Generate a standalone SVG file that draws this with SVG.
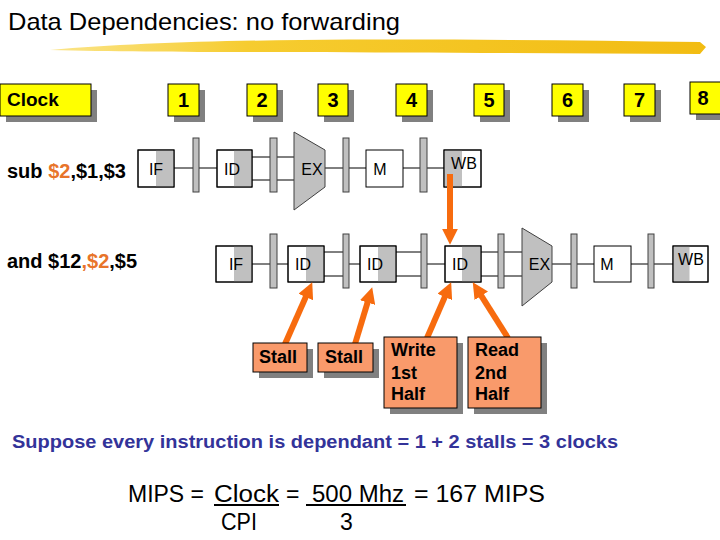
<svg xmlns="http://www.w3.org/2000/svg" width="720" height="540" viewBox="0 0 720 540">
<defs>
<linearGradient id="brush" x1="0" y1="0" x2="1" y2="0">
<stop offset="0" stop-color="#FBE58A"/>
<stop offset="0.3" stop-color="#F6CC30"/>
<stop offset="1" stop-color="#F2BC12"/>
</linearGradient>
<marker id="ah" markerUnits="userSpaceOnUse" markerWidth="16" markerHeight="16" viewBox="0 0 14 14" refX="2" refY="7" orient="auto">
<path d="M0,0 L14,7 L0,14 z" fill="#F76B0E"/>
</marker>
</defs>
<style>
.t{font-family:"Liberation Sans",Arial,sans-serif}
.b{font-weight:bold}
.clk{fill:#FFFF00;stroke:#000;stroke-width:1}
.sh{fill:#808080}
.box{fill:#fff;stroke:#000;stroke-width:1}
.half{fill:#C0C0C0}
.latch{fill:#C0C0C0;stroke:#404040;stroke-width:1}
.alu{fill:#C0C0C0;stroke:#404040;stroke-width:1}
.wire{stroke:#000;stroke-width:1;fill:none}
.note{fill:#F99A6B;stroke:#000;stroke-width:1}
.arr{stroke:#F76B0E;stroke-width:6;fill:none}
.st{font-size:16px}
.num{font-size:20px;font-weight:bold}
.lbl{font-size:18px;font-weight:bold}
.org{fill:#E8742A}
</style>
<rect width="720" height="540" fill="#fff"/>

<!-- title -->
<g id="title">
<path d="M50,50 C120,44 200,41 300,40 C420,39 560,40 700,42 L706,47 L700,54 C560,53 420,53 300,52 C200,52 120,52 50,50 z" fill="url(#brush)"/>
<text class="t" x="8" y="30" font-size="24" textLength="392" lengthAdjust="spacingAndGlyphs">Data Dependencies: no forwarding</text>
</g>

<!-- clock row -->
<g id="clock-label">
<rect class="sh" x="6" y="90" width="91" height="32"/>
<rect class="clk" x="0" y="84" width="91" height="32"/>
<text class="t b" x="7" y="106" font-size="19">Clock</text>
</g>
<g id="clk1"><rect class="sh" x="174" y="90" width="31" height="32"/><rect class="clk" x="168" y="84" width="31" height="32"/><text class="t num" x="183.5" y="107" text-anchor="middle">1</text></g>
<g id="clk2"><rect class="sh" x="253" y="90" width="30" height="32"/><rect class="clk" x="247" y="84" width="30" height="32"/><text class="t num" x="262" y="107" text-anchor="middle">2</text></g>
<g id="clk3"><rect class="sh" x="324" y="90" width="30" height="32"/><rect class="clk" x="318" y="84" width="30" height="32"/><text class="t num" x="333" y="107" text-anchor="middle">3</text></g>
<g id="clk4"><rect class="sh" x="402" y="90" width="31" height="32"/><rect class="clk" x="396" y="84" width="31" height="32"/><text class="t num" x="411.5" y="107" text-anchor="middle">4</text></g>
<g id="clk5"><rect class="sh" x="480" y="90" width="30" height="32"/><rect class="clk" x="474" y="84" width="30" height="32"/><text class="t num" x="489" y="107" text-anchor="middle">5</text></g>
<g id="clk6"><rect class="sh" x="558" y="90" width="31" height="32"/><rect class="clk" x="552" y="84" width="31" height="32"/><text class="t num" x="567.5" y="107" text-anchor="middle">6</text></g>
<g id="clk7"><rect class="sh" x="630" y="90" width="31" height="32"/><rect class="clk" x="624" y="84" width="31" height="32"/><text class="t num" x="639.5" y="107" text-anchor="middle">7</text></g>
<g id="clk8"><rect class="sh" x="696" y="88" width="32" height="32"/><rect class="clk" x="690" y="82" width="32" height="32"/><text class="t num" x="703" y="105" text-anchor="middle">8</text></g>

<!-- instruction labels -->
<g id="label-sub"><text class="t b" x="7" y="178" font-size="20">sub <tspan class="org">$2</tspan>,$1,$3</text></g>
<g id="label-and"><text class="t b" x="7" y="268" font-size="20">and $12<tspan class="org">,$2</tspan>,$5</text></g>

<!-- connectors -->
<g id="connectors">
<path class="wire" d="M174,168 H217 M252,157 H294 M252,180 H294 M325,168 H366 M403,168 H444"/>
<path class="wire" d="M252,264 H288 M324,252 H343 M324,276 H343 M349,264 H360 M396,252 H421 M396,276 H421 M427,264 H445 M481,252 H522 M481,276 H522 M552,264 H594 M631,264 H673"/>
</g>

<!-- row 1 pipeline -->
<g id="r1-if"><rect class="box" x="138" y="150" width="36" height="37"/><rect class="half" x="156" y="150.5" width="17.5" height="36"/><rect x="138" y="150" width="36" height="37" fill="none" stroke="#000"/><text class="t st" x="156" y="175" text-anchor="middle">IF</text></g>
<g id="r1-l1"><rect class="latch" x="193" y="138" width="6" height="54"/></g>
<g id="r1-id"><rect class="box" x="217" y="150" width="35" height="37"/><rect class="half" x="234" y="150.5" width="17.5" height="36"/><rect x="217" y="150" width="35" height="37" fill="none" stroke="#000"/><text class="t st" x="232" y="175" text-anchor="middle">ID</text></g>
<g id="r1-l2"><rect class="latch" x="270" y="138" width="7" height="54"/></g>
<g id="r1-ex"><path class="alu" d="M294,132 L325,150 L325,187 L294,210 z"/><text class="t st" x="312" y="175" text-anchor="middle">EX</text></g>
<g id="r1-l3"><rect class="latch" x="343" y="138" width="6" height="54"/></g>
<g id="r1-m"><rect class="box" x="366" y="150" width="37" height="37"/><text class="t st" x="380" y="175" text-anchor="middle">M</text></g>
<g id="r1-l4"><rect class="latch" x="420" y="138" width="7" height="54"/></g>
<g id="r1-wb"><rect class="box" x="444" y="150" width="37" height="37"/><rect class="half" x="444.5" y="150.5" width="17.5" height="36"/><rect x="444" y="150" width="37" height="37" fill="none" stroke="#000"/><text class="t st" x="464" y="169" text-anchor="middle">WB</text></g>

<!-- row 2 pipeline -->
<g id="r2-if"><rect class="box" x="216" y="246" width="36" height="36"/><rect class="half" x="234" y="246.5" width="17.5" height="35"/><rect x="216" y="246" width="36" height="36" fill="none" stroke="#000"/><text class="t st" x="236" y="270" text-anchor="middle">IF</text></g>
<g id="r2-l1"><rect class="latch" x="270" y="234" width="7" height="54"/></g>
<g id="r2-id1"><rect class="box" x="288" y="246" width="36" height="36"/><rect class="half" x="306" y="246.5" width="17.5" height="35"/><rect x="288" y="246" width="36" height="36" fill="none" stroke="#000"/><text class="t st" x="303" y="270" text-anchor="middle">ID</text></g>
<g id="r2-l2"><rect class="latch" x="343" y="234" width="6" height="54"/></g>
<g id="r2-id2"><rect class="box" x="360" y="246" width="36" height="36"/><rect class="half" x="378" y="246.5" width="17.5" height="35"/><rect x="360" y="246" width="36" height="36" fill="none" stroke="#000"/><text class="t st" x="375" y="270" text-anchor="middle">ID</text></g>
<g id="r2-l3"><rect class="latch" x="421" y="234" width="6" height="54"/></g>
<g id="r2-id3"><rect class="box" x="445" y="246" width="36" height="36"/><rect class="half" x="462" y="246.5" width="18.5" height="35"/><rect x="445" y="246" width="36" height="36" fill="none" stroke="#000"/><text class="t st" x="460" y="270" text-anchor="middle">ID</text></g>
<g id="r2-l4"><rect class="latch" x="498" y="234" width="6" height="54"/></g>
<g id="r2-ex"><path class="alu" d="M522,228 L552,246 L552,282 L522,306 z"/><text class="t st" x="539.5" y="270" text-anchor="middle">EX</text></g>
<g id="r2-l5"><rect class="latch" x="571" y="234" width="6" height="54"/></g>
<g id="r2-m"><rect class="box" x="594" y="246" width="37" height="36"/><text class="t st" x="607" y="270" text-anchor="middle">M</text></g>
<g id="r2-l6"><rect class="latch" x="648" y="234" width="6" height="54"/></g>
<g id="r2-wb"><rect class="box" x="673" y="246" width="35" height="36"/><rect class="half" x="673.5" y="246.5" width="16" height="35"/><rect x="673" y="246" width="35" height="36" fill="none" stroke="#000"/><text class="t st" x="691" y="265" text-anchor="middle">WB</text></g>

<!-- arrows -->
<g id="arrows">
<line class="arr" x1="450" y1="174" x2="450" y2="231" marker-end="url(#ah)"/>
<line class="arr" x1="285" y1="344" x2="306.7" y2="294.9" marker-end="url(#ah)"/>
<line class="arr" x1="355" y1="344" x2="368.2" y2="300.4" marker-end="url(#ah)"/>
<line class="arr" x1="427" y1="338" x2="445.7" y2="294.9" marker-end="url(#ah)"/>
<line class="arr" x1="508" y1="338" x2="480.1" y2="293.9" marker-end="url(#ah)"/>
</g>

<!-- notes -->
<g id="stall1"><rect class="sh" x="259" y="349" width="54" height="29"/><rect class="note" x="253" y="343" width="54" height="29"/><text class="t lbl" x="259" y="363">Stall</text></g>
<g id="stall2"><rect class="sh" x="324" y="349" width="55" height="29"/><rect class="note" x="318" y="343" width="55" height="29"/><text class="t lbl" x="325" y="363">Stall</text></g>
<g id="write"><rect class="sh" x="390" y="343" width="73" height="71"/><rect class="note" x="384" y="337" width="73" height="71"/><text class="t lbl" x="391" y="356">Write</text><text class="t lbl" x="391" y="379">1st</text><text class="t lbl" x="391" y="400">Half</text></g>
<g id="read"><rect class="sh" x="474" y="343" width="73" height="71"/><rect class="note" x="468" y="337" width="73" height="71"/><text class="t lbl" x="475" y="356">Read</text><text class="t lbl" x="475" y="379">2nd</text><text class="t lbl" x="475" y="400">Half</text></g>

<!-- bottom texts -->
<g id="summary">
<text class="t b" x="12" y="448" font-size="18" fill="#333399" textLength="606" lengthAdjust="spacingAndGlyphs">Suppose every instruction is dependant = 1 + 2 stalls = 3 clocks</text>
</g>
<g id="formula" class="t" font-size="23">
<text x="128" y="502" textLength="76" lengthAdjust="spacingAndGlyphs">MIPS =</text>
<text x="214" y="502" textLength="65" lengthAdjust="spacingAndGlyphs">Clock</text>
<line x1="214" y1="505" x2="279" y2="505" stroke="#000" stroke-width="2"/>
<text x="286" y="502">=</text>
<text x="312" y="502" textLength="92" lengthAdjust="spacingAndGlyphs">500 Mhz</text>
<line x1="306" y1="505" x2="406" y2="505" stroke="#000" stroke-width="2"/>
<text x="414" y="502" textLength="131" lengthAdjust="spacingAndGlyphs">= 167 MIPS</text>
<text x="221" y="530" textLength="36" lengthAdjust="spacingAndGlyphs">CPI</text>
<text x="340" y="530">3</text>
</g>
</svg>
